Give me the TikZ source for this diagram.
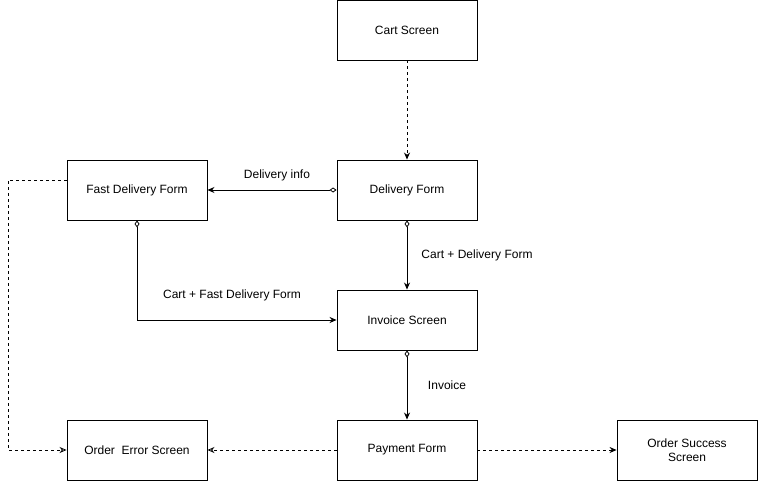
\documentclass[tikz,border=0pt]{standalone}
\usepackage{fontspec}
\setmainfont{Liberation Sans}
\usetikzlibrary{arrows.meta}
\begin{document}
\begin{tikzpicture}[x=1pt,y=-1pt,
  box/.style={draw,line width=0.9pt,minimum width=140pt,minimum height=60pt,inner sep=0pt,font=\fontsize{12pt}{14pt}\selectfont,align=center},
  lbl/.style={font=\fontsize{12pt}{14pt}\selectfont,inner sep=0pt},
  flow/.style={line width=0.8pt,{Diamond[open,length=7pt,width=5pt]}-{Stealth[length=7pt,width=6pt]}},
  dflow/.style={line width=0.8pt,dash pattern=on 3pt off 3pt,-{Stealth[length=7pt,width=6pt]}},
  eflow/.style={line width=0.8pt,dash pattern=on 3pt off 3pt,-{Stealth[open,length=7pt,width=6pt]}}]
\useasboundingbox (0,0) rectangle (759,481);
\node[box] (cart) at (407,30) {Cart Screen};
\node[box] (deliv) at (407,190) {Delivery Form};
\node[box] (fast) at (137,190) {Fast Delivery Form};
\node[box] (inv) at (407,320) {Invoice Screen};
\node[box] (pay) at (407,450) {Payment Form};
\node[box] (err) at (137,450) {Order~~Error Screen};
\node[box] (succ) at (687,450) {Order Success\\Screen};
\coordinate (c1) at (8,180);
\coordinate (c2) at (8,450);
\draw[dflow] (cart) -- (deliv);
\draw[flow] (deliv) -- (fast);
\node[lbl] (l1) at (277,175) {Delivery info};
\draw[flow] (deliv) -- (inv);
\node[lbl] (l2) at (477,255) {Cart + Delivery Form};
\draw[flow] (fast.south) |- (inv.west);
\node[lbl] (l3) at (232,295) {Cart + Fast Delivery Form};
\draw[flow] (inv) -- (pay);
\node[lbl] (l4) at (447,385) {Invoice};
\draw[eflow] (pay) -- (err);
\draw[dflow] (pay) -- (succ);
\draw[eflow] (fast.west |- c1) -- (c1) -- (c2) -- (err.west);
\end{tikzpicture}
\end{document}
